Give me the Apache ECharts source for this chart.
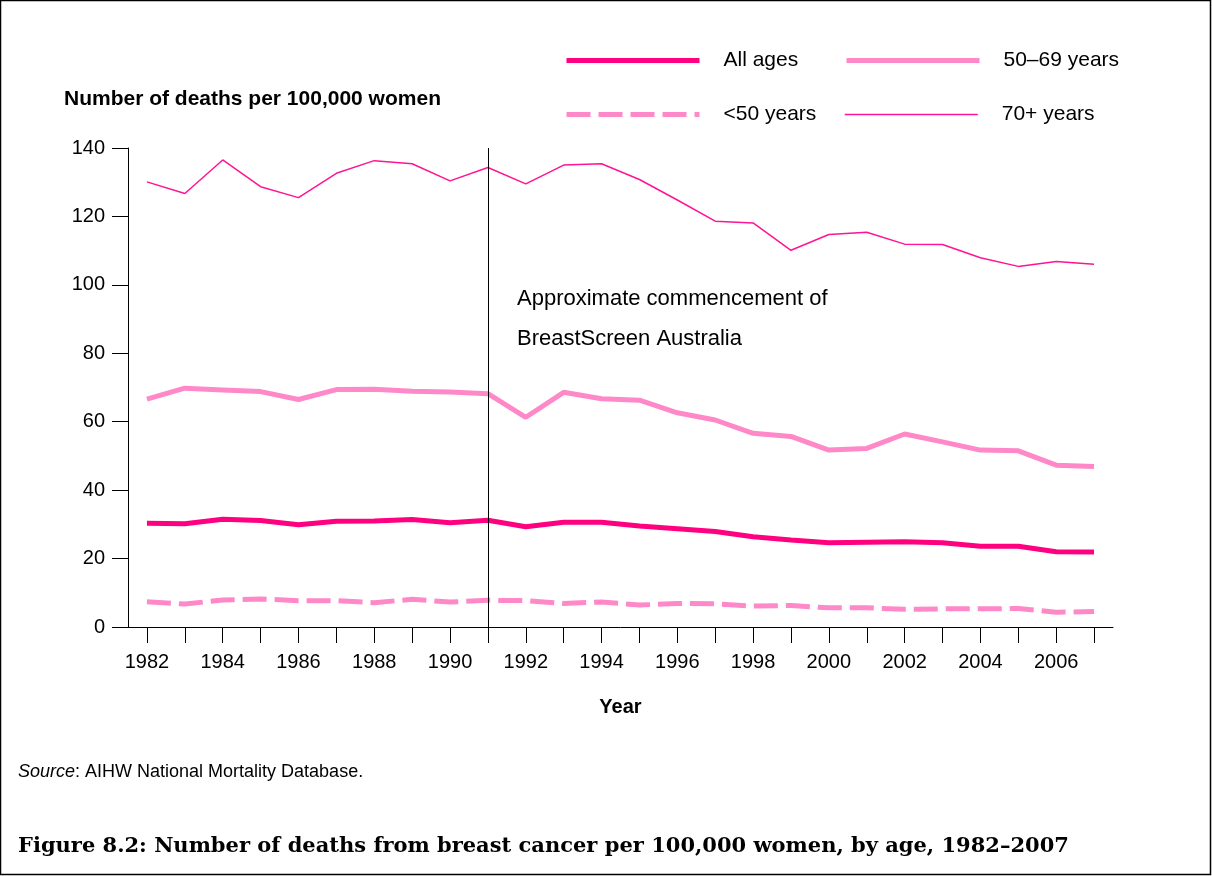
<!DOCTYPE html>
<html>
<head>
<meta charset="utf-8">
<script src="https://cdn.jsdelivr.net/npm/echarts@6/dist/echarts.min.js"></script>
<style>
html,body{margin:0;padding:0;background:#fff;}
#chart{width:1212px;height:876px;}
</style>
</head>
<body>
<div id="chart"></div>
<script>
const years = ['1982','1983','1984','1985','1986','1987','1988','1989','1990','1991','1992','1993','1994','1995','1996','1997','1998','1999','2000','2001','2002','2003','2004','2005','2006','2007'];
const allAges = [30.3,30.2,31.5,31.1,29.9,30.9,31.0,31.4,30.5,31.2,29.3,30.6,30.6,29.5,28.7,27.9,26.4,25.4,24.6,24.8,24.9,24.6,23.6,23.6,22.0,21.9];
const age50to69 = [66.6,69.8,69.3,68.8,66.5,69.4,69.5,68.9,68.7,68.2,61.3,68.6,66.7,66.3,62.6,60.5,56.6,55.7,51.7,52.2,56.4,54.1,51.7,51.5,47.3,46.9];
const under50 = [7.4,6.7,7.9,8.2,7.7,7.7,7.1,8.1,7.3,7.8,7.7,6.9,7.3,6.4,6.9,6.8,6.1,6.3,5.6,5.6,5.2,5.3,5.3,5.4,4.3,4.5];
const age70plus = [130.1,126.7,136.5,128.7,125.5,132.6,136.3,135.4,130.4,134.3,129.5,135.0,135.4,130.8,124.8,118.6,118.1,110.1,114.7,115.4,111.9,111.8,107.9,105.4,106.8,106.0];
const seriesNames = ['All ages','50\u201369 years','<50 years','70+ years'];
const screeningYear = '1991';
const annotationLines = ['Approximate commencement of','BreastScreen Australia'];

const FONT = 'Liberation Sans, Arial, sans-serif';
const cAll = '#ff0080', cMid = '#ff88c8', cOld = '#ff1493';

const chart = echarts.init(document.getElementById('chart'), null, {renderer:'canvas'});

function legendAt(name, left, top){
  return {
    data:[{name:name, itemStyle:{opacity:0}}],
    left:left, top:top, itemWidth:133, itemHeight:14,
    selectedMode:false,
    lineStyle:{width:'inherit', type:'inherit'},
    textStyle:{fontFamily:FONT, fontSize:21, color:'#000', padding:[0,0,0,19]}
  };
}

chart.setOption({
  animation:false,
  backgroundColor:'#fff',
  title:[
    {text:'Number of deaths per 100,000 women', left:59, top:84,
     textStyle:{fontFamily:FONT, fontSize:21, fontWeight:'bold', color:'#000'}},
    {text:'{i|Source}: AIHW National Mortality Database.', left:13, top:758,
     textStyle:{fontFamily:FONT, fontSize:18, color:'#000', fontWeight:'normal',
       rich:{i:{fontFamily:FONT, fontSize:18, fontStyle:'italic', color:'#000'}}}},
    {text:'Figure 8.2: Number of deaths from breast cancer per 100,000 women, by age, 1982\u20132007', left:13, top:831,
     textStyle:{fontFamily:'DejaVu Serif, serif', fontSize:21, fontWeight:'bold', color:'#000'}}
  ],
  legend:[
    legendAt(seriesNames[0], 559, 45),
    legendAt(seriesNames[1], 839, 45),
    legendAt(seriesNames[2], 559, 99),
    legendAt(seriesNames[3], 839, 99)
  ],
  grid:{left:128, right:99, top:148, bottom:249, containLabel:false},
  xAxis:{
    type:'category', data:years, boundaryGap:true,
    name:'Year', nameLocation:'middle', nameGap:70,
    nameTextStyle:{fontFamily:FONT, fontSize:20, fontWeight:'bold', color:'#000'},
    axisLine:{show:true, lineStyle:{color:'#000', width:1}},
    axisTick:{show:true, alignWithLabel:true, interval:0, length:16, lineStyle:{color:'#000'}},
    axisLabel:{interval:1, fontFamily:FONT, fontSize:20, color:'#000', margin:25},
    splitLine:{show:false}
  },
  yAxis:{
    type:'value', min:0, max:140, interval:20,
    axisLine:{show:true, lineStyle:{color:'#000', width:1}},
    axisTick:{show:true, length:16, lineStyle:{color:'#000'}},
    axisLabel:{fontFamily:FONT, fontSize:20, color:'#000', margin:23},
    splitLine:{show:false}
  },
  series:[
    {name:seriesNames[0], type:'line', data:allAges, symbol:'none', z:4,
     lineStyle:{color:cAll, width:5}, itemStyle:{color:cAll},
     markLine:{silent:true, symbol:'none', animation:false,
       lineStyle:{color:'#000', width:1, type:'solid'}, label:{show:false},
       data:[{xAxis:screeningYear}]}},
    {name:seriesNames[1], type:'line', data:age50to69, symbol:'none', z:3,
     lineStyle:{color:cMid, width:5}, itemStyle:{color:cMid}},
    {name:seriesNames[2], type:'line', data:under50, symbol:'none', z:3,
     lineStyle:{color:cMid, width:5, type:[24,8]}, itemStyle:{color:cMid}},
    {name:seriesNames[3], type:'line', data:age70plus, symbol:'none', z:3,
     lineStyle:{color:cOld, width:1.5}, itemStyle:{color:cOld}}
  ],
  graphic:[
    {type:'rect', silent:true, shape:{x:0.5, y:0.5, width:1210, height:874},
     style:{fill:'none', stroke:'#000', lineWidth:1.5}},
    {type:'text', left:517, top:288, silent:true,
     style:{text:annotationLines[0], font:'22px ' + FONT, fill:'#000'}},
    {type:'text', left:517, top:328, silent:true,
     style:{text:annotationLines[1], font:'22px ' + FONT, fill:'#000'}}
  ]
});
</script>
</body>
</html>
